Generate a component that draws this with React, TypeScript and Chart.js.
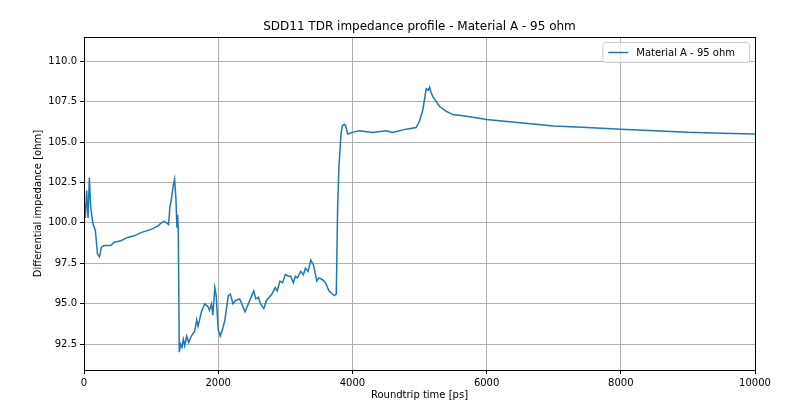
import React, { useEffect, useRef } from "react";
import { Chart, registerables } from "chart.js";
Chart.register(...registerables);

const timesPs = [0,20,40,60,80,100,130,170,200,230,260,300,400,450,550,650,750,850,1000,1100,1150,1200,1260,1280,1300,1330,1350,1370,1385,1395,1405,1420,1440,1460,1480,1500,1530,1560,1600,1650,1680,1700,1750,1800,1850,1870,1900,1920,1950,1970,2000,2030,2070,2100,2150,2180,2220,2260,2320,2350,2400,2450,2500,2530,2560,2600,2630,2680,2720,2760,2800,2850,2880,2920,2960,3000,3050,3080,3120,3150,3180,3230,3270,3300,3340,3380,3420,3470,3500,3550,3600,3650,3700,3730,3760,3780,3800,3830,3850,3880,3900,3930,4000,4100,4300,4500,4600,4800,4950,5000,5050,5100,5130,5150,5170,5200,5300,5400,5500,5700,6000,6500,7000,7500,8000,8500,9000,9500,10000];
const impedanceOhm = [101.5,100.3,102.0,100.3,102.8,101.0,100.0,99.5,98.1,97.9,98.5,98.6,98.6,98.8,98.9,99.1,99.2,99.4,99.6,99.8,100.0,100.1,99.9,101.0,101.4,102.3,102.7,101.5,99.7,100.5,99.6,92.0,92.5,92.3,92.8,92.4,93.0,92.6,93.0,93.3,94.0,93.6,94.5,95.0,94.8,94.6,95.0,94.3,96.0,95.5,93.4,93.0,93.5,94.0,95.5,95.6,95.0,95.2,95.3,95.0,94.5,95.0,95.5,95.8,95.3,95.4,95.0,94.7,95.2,95.4,95.6,96.0,95.8,96.4,96.3,96.8,96.7,96.7,96.3,96.7,96.6,97.0,96.8,97.2,97.0,97.7,97.4,96.4,96.6,96.5,96.3,95.8,95.6,95.5,95.6,101.0,103.5,105.5,106.0,106.1,106.0,105.5,105.6,105.7,105.6,105.7,105.6,105.8,105.9,106.3,107.0,108.3,108.2,108.4,108.1,107.8,107.2,106.9,106.7,106.6,106.4,106.2,106.0,105.9,105.8,105.7,105.6,105.55,105.5];
const seriesLabel = "Material A - 95 ohm";
const titleText = "SDD11 TDR impedance profile - Material A - 95 ohm";

const FONT = "'DejaVu Sans', sans-serif";

export default function App() {
  const ref = useRef<HTMLCanvasElement>(null);
  useEffect(() => {
    document.body.style.margin = "0";
    const overlay = {
      id: "overlay",
      afterDraw(chart: any) {
        const { ctx, chartArea: a } = chart;
        ctx.save();
        ctx.strokeStyle = "#000";
        ctx.lineWidth = 1;
        ctx.strokeRect(a.left + 0.5, a.top + 0.5, a.right - a.left, a.bottom - a.top);
        ctx.fillStyle = "#000";
        ctx.font = `12px ${FONT}`;
        ctx.textAlign = "center";
        ctx.textBaseline = "alphabetic";
        ctx.fillText(titleText, (a.left + a.right) / 2, 30);
        ctx.font = `10px ${FONT}`;
        const tw = ctx.measureText(seriesLabel).width;
        const w = tw + 48, h = 20;
        const x = a.right - 6 - w, y = a.top + 5;
        ctx.fillStyle = "rgba(255,255,255,0.8)";
        ctx.strokeStyle = "#cccccc";
        ctx.beginPath();
        ctx.roundRect(x + 0.5, y + 0.5, w, h, 3);
        ctx.fill();
        ctx.stroke();
        ctx.strokeStyle = "#1f77b4";
        ctx.lineWidth = 1.5;
        ctx.beginPath();
        ctx.moveTo(x + 6, y + h / 2 + 0.5);
        ctx.lineTo(x + 26, y + h / 2 + 0.5);
        ctx.stroke();
        ctx.fillStyle = "#000";
        ctx.textAlign = "left";
        ctx.textBaseline = "middle";
        ctx.fillText(seriesLabel, x + 34, y + h / 2 + 1);
        ctx.restore();
      },
    };
    const chart = new Chart(ref.current!, {
      type: "line",
      data: {
        datasets: [{
          label: seriesLabel,
          data: timesPs.map((t, i) => ({ x: t, y: impedanceOhm[i] })),
          borderColor: "#1f77b4",
          borderWidth: 1.5,
          pointRadius: 0,
          tension: 0,
        }],
      },
      options: {
        animation: false,
        responsive: false,
        layout: { padding: { left: 32, top: 37, right: 45, bottom: 9 } },
        plugins: { legend: { display: false }, title: { display: false }, tooltip: { enabled: false } },
        scales: {
          x: {
            type: "linear", min: 0, max: 10000,
            ticks: { stepSize: 2000, color: "#000", font: { family: FONT, size: 10 }, maxRotation: 0, callback: (v: any) => String(v) },
            grid: { color: "#b0b0b0", tickColor: "#000", tickLength: 4 },
            border: { color: "#000" },
            title: { display: true, text: "Roundtrip time [ps]", color: "#000", font: { family: FONT, size: 10 }, padding: { top: 0, bottom: 0 } },
            afterFit: (s: any) => { s.height = 31; },
          },
          y: {
            min: 90.9, max: 111.5,
            afterBuildTicks: (s: any) => {
              const t = [];
              for (let v = 92.5; v <= 110.01; v += 2.5) t.push({ value: v });
              s.ticks = t;
            },
            ticks: { color: "#000", font: { family: FONT, size: 10 }, callback: (v: any) => Number(v).toFixed(1) },
            grid: { color: "#b0b0b0", tickColor: "#000", tickLength: 4 },
            border: { color: "#000" },
            title: { display: true, text: "Differential impedance [ohm]", color: "#000", font: { family: FONT, size: 10 }, padding: { top: 0, bottom: 4 } },
            afterFit: (s: any) => { s.width = 52; },
          },
        },
      },
      plugins: [overlay],
    });
    return () => chart.destroy();
  }, []);
  return <canvas ref={ref} width={800} height={410} style={{ display: "block" }} />;
}
